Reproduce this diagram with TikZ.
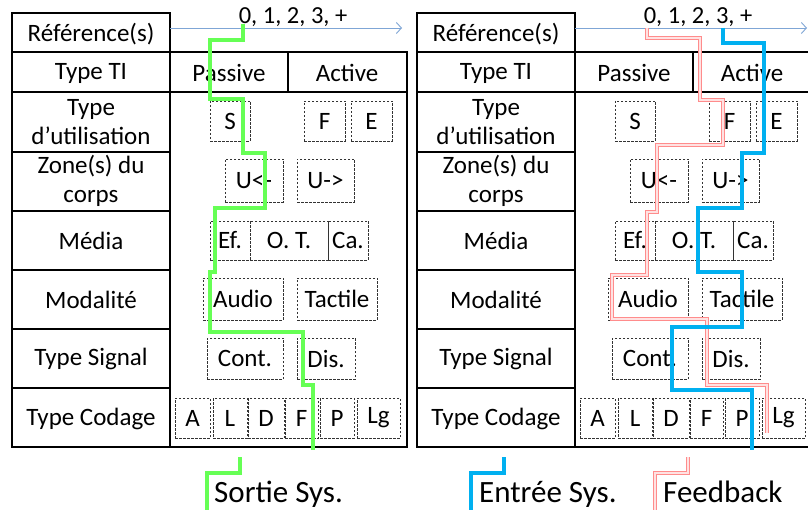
\documentclass[tikz,border=0pt]{standalone}
\usepackage{fontspec}
\setmainfont{Carlito}
\usetikzlibrary{arrows.meta}
\definecolor{gline}{HTML}{66FF55}
\definecolor{bline}{HTML}{00B0F0}
\definecolor{pline}{HTML}{FF8C8C}
\definecolor{refblue}{HTML}{7FA6D6}
\newcommand{\fsT}{\fontsize{25}{29}\selectfont}
\newcommand{\fsN}{\fontsize{24.5}{28}\selectfont}
\newcommand{\fsL}{\fontsize{31}{36}\selectfont}
\tikzset{
  tbl/.style={line width=2pt,draw=black},
  lbl/.style={font=\fsT,align=center,inner sep=0pt},
  dbox/.style={draw=black!80,dash pattern=on 2.5pt off 1.5pt,line width=0.7pt,inner sep=0pt,font=\fsT},
  refarrow/.style={draw=refblue,line width=0.9pt,-{Straight Barb[length=5pt,width=11pt]}},
  gpath/.style={draw=gline,line width=4pt},
  bpath/.style={draw=bline,line width=4pt},
  ppath/.style={draw=pline,line width=1.1pt,double=pline!25,double distance=2.2pt},
}
\newcommand{\mytable}[1]{%
  \draw[tbl] (12,13) rectangle (170,447);
  \foreach \yy in {52,92,152,211,270,329,388} {\draw[tbl] (12,\yy) -- (170,\yy);}
  \draw[tbl] (170,52) rectangle (407,447);
  \draw[tbl] (170,92) -- (407,92);
  \draw[tbl] (288,52) -- (288,92);
  \coordinate (#1-a0) at (170,28);
  \coordinate (#1-a1) at (402,28);
  \draw[refarrow] (#1-a0) -- (#1-a1);
  \node[font=\fsN,inner sep=0pt,anchor=base] (#1-num) at (293,24) {0, 1, 2, 3, +};
  \node[lbl] (#1-ref) at (91,34) {Référence(s)};
  \node[lbl] (#1-ti) at (91,73) {Type TI};
  \node[lbl] (#1-ut) at (91,122) {Type\\d’utilisation};
  \node[lbl] (#1-zo) at (91,181) {Zone(s) du\\corps};
  \node[lbl] (#1-me) at (91,241) {Média};
  \node[lbl] (#1-mo) at (91,300) {Modalité};
  \node[lbl] (#1-si) at (91,359) {Type Signal};
  \node[lbl] (#1-co) at (91,419) {Type Codage};
  \node[lbl] (#1-pa) at (229,73) {Passive};
  \node[lbl] (#1-ac) at (347,73) {Active};
  \node[dbox,minimum width=40pt,minimum height=40pt] (#1-S) at (230,121) {S};
  \node[dbox,minimum width=41pt,minimum height=40pt] (#1-F) at (324.5,121) {F};
  \node[dbox,minimum width=41pt,minimum height=40pt] (#1-E) at (371.5,121) {E};
  \node[dbox,minimum width=58pt,minimum height=43pt] (#1-Ul) at (254,180.5) {U<-};
  \node[dbox,minimum width=57pt,minimum height=43pt] (#1-Ur) at (325.5,180.5) {U->};
  \node[dbox,minimum width=40pt,minimum height=39pt] (#1-Ef) at (230,240.5) {Ef.};
  \node[dbox,minimum width=78pt,minimum height=39pt] (#1-OT) at (289,240.5) {O. T.};
  \node[dbox,minimum width=40pt,minimum height=39pt] (#1-Ca) at (348,240.5) {Ca.};
  \node[dbox,minimum width=80pt,minimum height=42pt] (#1-Au) at (243,299) {Audio};
  \node[dbox,minimum width=80pt,minimum height=42pt] (#1-Ta) at (337,299) {Tactile};
  \node[dbox,minimum width=76pt,minimum height=41pt] (#1-Co) at (245,358.5) {Cont.};
  \node[dbox,minimum width=58pt,minimum height=41pt] (#1-Di) at (326,358.5) {Dis.};
  \node[dbox,minimum width=35pt,minimum height=40pt] (#1-cA) at (192.5,418) {A};
  \node[dbox,minimum width=34pt,minimum height=40pt] (#1-cL) at (230,418) {L};
  \node[dbox,minimum width=36pt,minimum height=40pt] (#1-cD) at (266,418) {D};
  \node[dbox,minimum width=33pt,minimum height=40pt] (#1-cF) at (301.5,418) {F};
  \node[dbox,minimum width=34pt,minimum height=40pt] (#1-cP) at (337,418) {P};
  \node[dbox,minimum width=43pt,minimum height=40pt] (#1-cLg) at (378.5,418) {Lg};
}
\begin{document}
\begin{tikzpicture}[x=1pt,y=-1pt]
\clip (0,0) rectangle (808,510);
\fill[white] (0,0) rectangle (808,510);
\mytable{L}
\begin{scope}[xshift=405pt]
\mytable{R}
\end{scope}
% green path (Sortie Sys.)
\draw[gpath] (243,24) -- (243,40) -- (210,40) -- (210,99) -- (243,99) -- (243,153) -- (265,153) -- (265,208) -- (215,208) -- (215,272) -- (210,272) -- (210,332) -- (303,332) -- (303,385) -- (313,385) -- (313,450);
% pink path (Feedback)
\draw[ppath] (647,28) -- (647,38) -- (700,38) -- (700,100) -- (723,100) -- (723,145) -- (657,145) -- (657,212) -- (647,212) -- (647,275) -- (612,275) -- (612,319) -- (707,319) -- (707,385) -- (767,385) -- (767,433);
% blue path (Entree Sys.)
\draw[bpath] (723,28) -- (723,43) -- (764,43) -- (764,153) -- (742,153) -- (742,208) -- (698,208) -- (698,272) -- (742,272) -- (742,327) -- (672,327) -- (672,390) -- (752,390) -- (752,450);
% legend
\draw[gpath] (240,457) -- (240,473) -- (207,473) -- (207,515);
\node[font=\fsL,anchor=base west,inner sep=0pt] (legS) at (214,502) {Sortie Sys.};
\draw[bpath] (504,457) -- (504,473) -- (471,473) -- (471,515);
\node[font=\fsL,anchor=base west,inner sep=0pt] (legE) at (479,502) {Entrée Sys.};
\draw[ppath] (688,457) -- (688,473) -- (655,473) -- (655,515);
\node[font=\fsL,anchor=base west,inner sep=0pt] (legF) at (663,502) {Feedback};
\end{tikzpicture}
\end{document}
